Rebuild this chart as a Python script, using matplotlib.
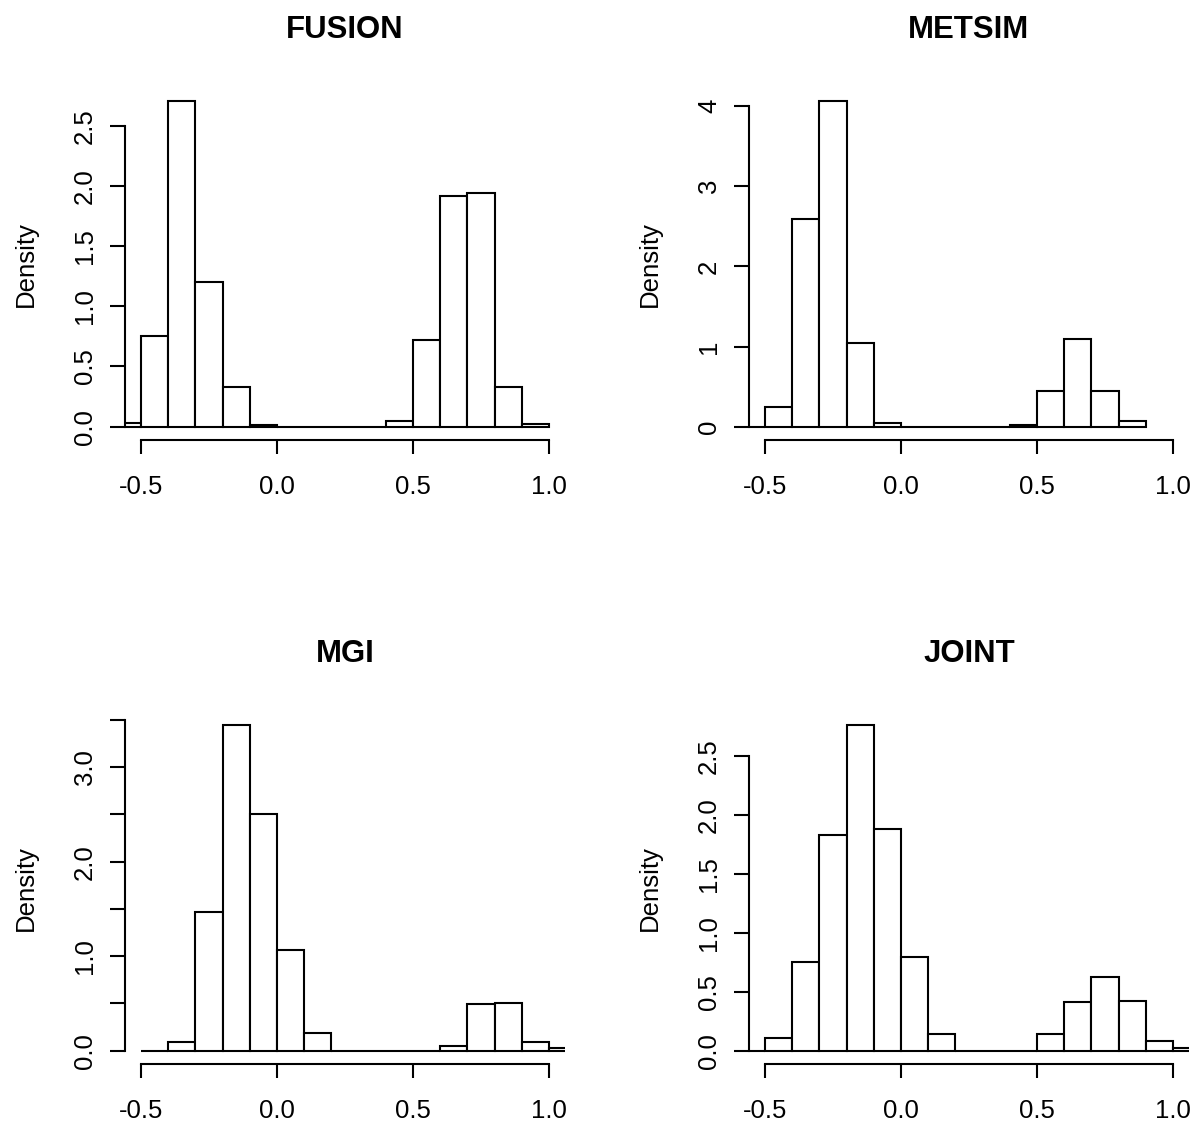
import numpy as np
from matplotlib import pyplot as plt

plt.rcParams['font.family'] = ['Liberation Sans', 'DejaVu Sans']

fusion_breaks = [-0.6, -0.5, -0.4, -0.3, -0.2, -0.1, 0.0, 0.1, 0.2, 0.3, 0.4, 0.5, 0.6, 0.7, 0.8, 0.9, 1.0]
fusion_density = [0.03, 0.75, 2.71, 1.20, 0.33, 0.01, 0, 0, 0, 0, 0.05, 0.72, 1.92, 1.94, 0.33, 0.02]

metsim_breaks = [-0.6, -0.5, -0.4, -0.3, -0.2, -0.1, 0.0, 0.1, 0.2, 0.3, 0.4, 0.5, 0.6, 0.7, 0.8, 0.9]
metsim_density = [0, 0.25, 2.59, 4.07, 1.05, 0.04, 0, 0, 0, 0, 0.02, 0.44, 1.09, 0.44, 0.07]

mgi_breaks = [-0.5, -0.4, -0.3, -0.2, -0.1, 0.0, 0.1, 0.2, 0.3, 0.4, 0.5, 0.6, 0.7, 0.8, 0.9, 1.0, 1.1]
mgi_density = [0, 0.09, 1.47, 3.45, 2.50, 1.07, 0.19, 0, 0, 0, 0, 0.05, 0.49, 0.51, 0.09, 0.03]

joint_breaks = [-0.6, -0.5, -0.4, -0.3, -0.2, -0.1, 0.0, 0.1, 0.2, 0.3, 0.4, 0.5, 0.6, 0.7, 0.8, 0.9, 1.0, 1.1]
joint_density = [0, 0.11, 0.75, 1.83, 2.77, 1.88, 0.80, 0.14, 0, 0, 0, 0.14, 0.41, 0.63, 0.42, 0.08, 0.02]

titles = ["FUSION", "METSIM", "MGI", "JOINT"]
x_ticks = [-0.5, 0.0, 0.5, 1.0]
x_labels = ["-0.5", "0.0", "0.5", "1.0"]
y_ticks = [[0, 0.5, 1.0, 1.5, 2.0, 2.5], [0, 1, 2, 3, 4],
           [0, 0.5, 1.0, 1.5, 2.0, 2.5, 3.0, 3.5], [0, 0.5, 1.0, 1.5, 2.0, 2.5]]
y_labels = [["0.0", "0.5", "1.0", "1.5", "2.0", "2.5"], ["0", "1", "2", "3", "4"],
            ["0.0", "", "1.0", "", "2.0", "", "3.0", ""], ["0.0", "0.5", "1.0", "1.5", "2.0", "2.5"]]

breaks = [fusion_breaks, metsim_breaks, mgi_breaks, joint_breaks]
density = [fusion_density, metsim_density, mgi_density, joint_density]

W, H = 1197, 1128
fig = plt.figure(figsize=(W / 100, H / 100), dpi=100)

# regiones de dibujo en pixeles: (izq, arriba)
regiones = [(124.7, 87.5), (748.7, 87.5), (124.7, 711.6), (748.7, 711.6)]
ancho, alto = 440.6, 352.2
lw = 1.5

for i in range(4):
    x0, y0 = regiones[i]
    ax = fig.add_axes([x0 / W, 1 - (y0 + alto) / H, ancho / W, alto / H])
    b = np.array(breaks[i])
    d = np.array(density[i])
    ax.bar(b[:-1], d, width=np.diff(b), align='edge', facecolor='white',
           edgecolor='black', linewidth=lw)

    # como en R: extension del 4%
    ax.set_xlim(-0.5 - 0.06, 1.0 + 0.06)
    ymax = d.max()
    ax.set_ylim(-0.04 * ymax, 1.04 * ymax)

    ax.spines['top'].set_visible(False)
    ax.spines['right'].set_visible(False)
    ax.spines['left'].set_linewidth(lw)
    ax.spines['bottom'].set_linewidth(lw)
    ax.spines['left'].set_bounds(y_ticks[i][0], y_ticks[i][-1])
    ax.spines['bottom'].set_bounds(x_ticks[0], x_ticks[-1])

    ax.set_xticks(x_ticks)
    ax.set_xticklabels(x_labels)
    ax.set_yticks(y_ticks[i])
    ax.set_yticklabels(y_labels[i], rotation=90, va='center')
    ax.tick_params(axis='x', length=10, width=lw, pad=15.5, labelsize=18.5)
    ax.tick_params(axis='y', length=10.8, width=lw, pad=9, labelsize=18.5)

    ax.set_ylabel("Density", fontsize=18.5)
    ax.yaxis.set_label_coords(-0.197, 0.5)
    ax.set_title(titles[i], fontsize=22.4, fontweight='bold', pad=36)

fig.savefig("out.png", dpi=100)
